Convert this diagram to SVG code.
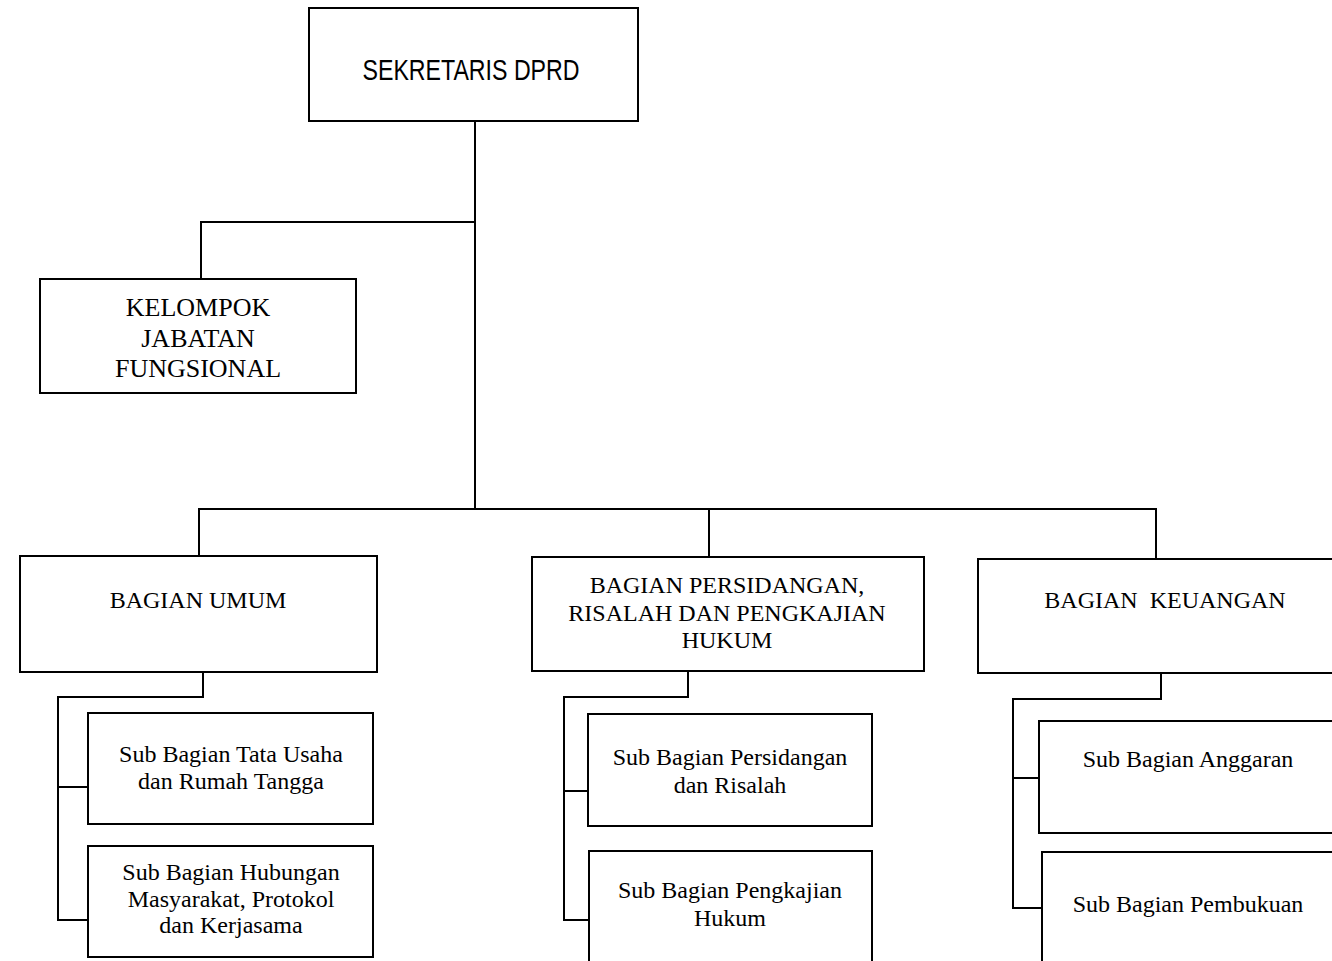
<svg xmlns="http://www.w3.org/2000/svg" width="1332" height="961" viewBox="0 0 1332 961">
<style>
.box{fill:#fff;stroke:#000;stroke-width:2}
.ln{fill:none;stroke:#000;stroke-width:2}
.t{font-family:"Liberation Serif","Times New Roman",serif;font-size:24px;fill:#000;text-anchor:middle}
.k{font-size:26px}
.s{font-family:"Liberation Sans",Arial,sans-serif;font-size:29px;fill:#000;text-anchor:middle}
</style>
<rect width="1332" height="961" fill="#fff"/>
<g id="connectors">
<path class="ln" d="M475 121V509"/>
<path class="ln" d="M475 222H201V279"/>
<path class="ln" d="M199 556V509H1156V559"/>
<path class="ln" d="M709 509V557"/>
<path class="ln" d="M203 672V697H58V920H88"/>
<path class="ln" d="M58 787H88"/>
<path class="ln" d="M688 671V697H564V920H589"/>
<path class="ln" d="M564 791H588"/>
<path class="ln" d="M1161 673V699H1013V908H1042"/>
<path class="ln" d="M1013 778H1039"/>
</g>
<g id="sekretaris">
<rect class="box" x="309" y="8" width="329" height="113"/>
<text class="s" x="471" y="80" textLength="217" lengthAdjust="spacingAndGlyphs">SEKRETARIS DPRD</text>
</g>
<g id="kelompok">
<rect class="box" x="40" y="279" width="316" height="114"/>
<text class="t k" x="198" y="316">KELOMPOK</text>
<text class="t k" x="198" y="346.5">JABATAN</text>
<text class="t k" x="198" y="377">FUNGSIONAL</text>
</g>
<g id="bagian-umum">
<rect class="box" x="20" y="556" width="357" height="116"/>
<text class="t" x="198" y="608">BAGIAN UMUM</text>
</g>
<g id="bagian-persidangan">
<rect class="box" x="532" y="557" width="392" height="114"/>
<text class="t" x="727" y="593">BAGIAN PERSIDANGAN,</text>
<text class="t" x="727" y="621">RISALAH DAN PENGKAJIAN</text>
<text class="t" x="727" y="648">HUKUM</text>
</g>
<g id="bagian-keuangan">
<rect class="box" x="978" y="559" width="380" height="114"/>
<text class="t" x="1165" y="608" xml:space="preserve">BAGIAN  KEUANGAN</text>
</g>
<g id="sub-tata-usaha">
<rect class="box" x="88" y="713" width="285" height="111"/>
<text class="t" x="231" y="762">Sub Bagian Tata Usaha</text>
<text class="t" x="231" y="789">dan Rumah Tangga</text>
</g>
<g id="sub-humas">
<rect class="box" x="88" y="846" width="285" height="111"/>
<text class="t" x="231" y="880">Sub Bagian Hubungan</text>
<text class="t" x="231" y="906.5">Masyarakat, Protokol</text>
<text class="t" x="231" y="933">dan Kerjasama</text>
</g>
<g id="sub-persidangan">
<rect class="box" x="588" y="714" width="284" height="112"/>
<text class="t" x="730" y="765">Sub Bagian Persidangan</text>
<text class="t" x="730" y="793">dan Risalah</text>
</g>
<g id="sub-pengkajian">
<rect class="box" x="589" y="851" width="283" height="130"/>
<text class="t" x="730" y="898">Sub Bagian Pengkajian</text>
<text class="t" x="730" y="926">Hukum</text>
</g>
<g id="sub-anggaran">
<rect class="box" x="1039" y="721" width="320" height="112"/>
<text class="t" x="1188" y="767">Sub Bagian Anggaran</text>
</g>
<g id="sub-pembukuan">
<rect class="box" x="1042" y="852" width="320" height="130"/>
<text class="t" x="1188" y="912">Sub Bagian Pembukuan</text>
</g>
</svg>
